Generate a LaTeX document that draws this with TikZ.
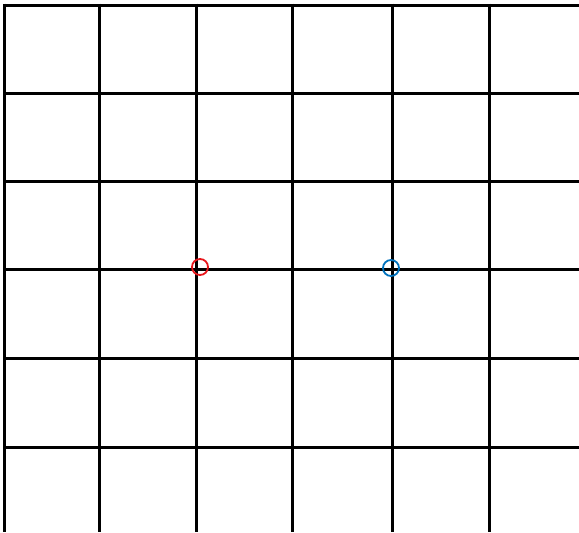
\documentclass[tikz,border=0pt]{standalone}
\definecolor{mblue}{HTML}{0072BD}
\definecolor{mred}{HTML}{E8161B}
\tikzset{gridline/.style={line width=3pt, black, line cap=butt},
  marker/.style={circle, draw, line width=1.8pt, minimum size=16pt, inner sep=0pt}}
\begin{document}
\begin{tikzpicture}[x=1pt,y=-1pt]
\useasboundingbox (0,0) rectangle (579,533);
\foreach \x in {4.5,99,196,292,392,489} {
  \draw[gridline] (\x,3.5) -- (\x,532);
}
\foreach \y in {5,93,181,269,358,447} {
  \draw[gridline] (3,\y) -- (579,\y);
}
\node[marker, draw=mred] (r) at (200,267) {};
\node[marker, draw=mblue] (b) at (391,268) {};
\end{tikzpicture}
\end{document}
